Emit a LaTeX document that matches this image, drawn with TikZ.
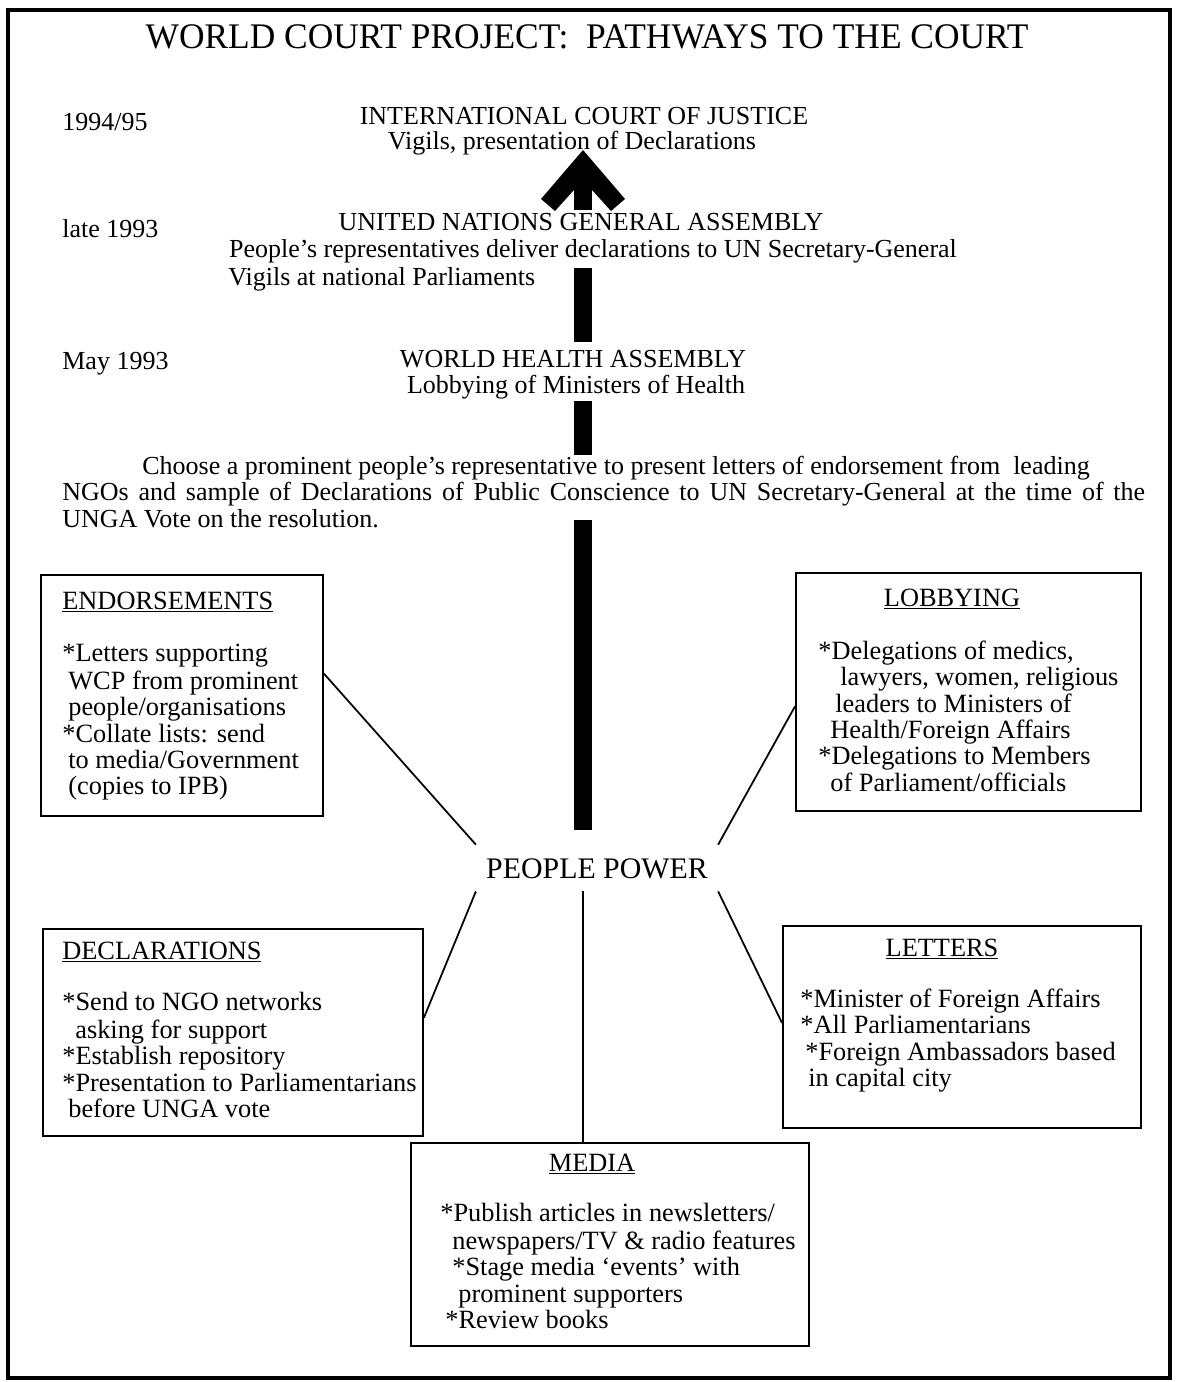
\documentclass[tikz,border=0pt]{standalone}
\usepackage{fontspec}
\setmainfont{Liberation Serif}
\usepackage{graphicx}
\usetikzlibrary{calc,backgrounds}
\newlength\pxu \setlength\pxu{0.02cm}
\newcommand\wcpbody{\fontsize{14.8}{15}\selectfont}
\newcommand\wcpbox{\fontsize{15}{15}\selectfont}
\newcommand\wcpppl{\fontsize{17}{20}\selectfont}
\newcommand\wcptitle{\fontsize{20.5}{24}\selectfont}
\begin{document}
\begin{tikzpicture}[x=0.02cm,y=-0.02cm,
  txt/.style={font=\wcpbody, inner sep=0pt},
  box/.style={draw, line width=1.1pt, inner sep=0pt, anchor=north west},
  boxttl/.style={font=\wcpbox, inner sep=0pt},
  body/.style={font=\wcpbox, inner sep=0pt, align=left, anchor=north west},
  link/.style={line width=1pt},
  shaft/.style={line width=0.36cm},
  frame/.style={line width=2.4pt}]
\useasboundingbox (0,0) rectangle (1176,1382);
\draw[frame] (8,10) rectangle (1170,1378);

% title
\node[txt, anchor=base] (title) at (587,49)
  {\wcptitle\scalebox{0.983}[1]{WORLD COURT PROJECT:\ \ PATHWAYS TO THE COURT}};

% dates
\node[txt, anchor=base west] (d1) at (62,131) {1994/95};
\node[txt, anchor=base west] (d2) at (62,237) {late 1993};
\node[txt, anchor=base west] (d3) at (62,369) {May 1993};

% stages
\node[txt, anchor=base] (icj1) at (584,125) {INTERNATIONAL COURT OF JUSTICE};
\node[txt, anchor=base] (icj2) at (572,150) {Vigils, presentation of Declarations};
\node[txt, anchor=base] (unga1) at (581,231) {UNITED NATIONS GENERAL ASSEMBLY};
\node[txt, anchor=base] (unga2) at (593,257) {People's representatives deliver declarations to UN Secretary-General};
\node[txt, anchor=base west] (unga3) at (228,285) {Vigils at national Parliaments};
\node[txt, anchor=base] (wha1) at (573,367) {WORLD HEALTH ASSEMBLY};
\node[txt, anchor=base] (wha2) at (576,393) {Lobbying of Ministers of Health};
\node[txt, anchor=base west] (para1) at (142,474) {Choose a prominent people's representative to present letters of endorsement from\ \ leading};
\node[txt, anchor=base west] (para2) at (62,500) {\makebox[21.66cm][s]{NGOs and sample of Declarations of Public Conscience to UN Secretary-General at the time of the}};
\node[txt, anchor=base west] (para3) at (62,527) {UNGA Vote on the resolution.};

% centre
\node[font=\wcpppl, anchor=base, inner xsep=0.2cm, inner ysep=0.26cm, text height=0.4cm, text depth=0pt] (pp) at (597,878) {PEOPLE POWER};

% boxes
\node[box, minimum width=5.64cm, minimum height=4.82cm] (endo) at (40,574) {};
\node[box, minimum width=6.9cm, minimum height=4.76cm] (lobby) at (795,572) {};
\node[box, minimum width=7.6cm, minimum height=4.14cm] (decl) at (42,928) {};
\node[box, minimum width=7.16cm, minimum height=4.04cm] (lett) at (782,925) {};
\node[box, minimum width=7.96cm, minimum height=4.06cm] (media) at (410,1142) {};

% box titles
\node[boxttl, anchor=base west] (endoT) at (62,609) {\underline{ENDORSEMENTS}};
\node[boxttl, anchor=base] (lobbyT) at (952,606) {\underline{LOBBYING}};
\node[boxttl, anchor=base west] (declT) at (62,959) {\underline{DECLARATIONS}};
\node[boxttl, anchor=base] (lettT) at (942,956) {\underline{LETTERS}};
\node[boxttl, anchor=base] (mediaT) at (592,1171) {\underline{MEDIA}};

% box bodies
\node[body] (endoB) at (62,642.5) {\strut*Letters supporting\\
  \hspace*{6\pxu}WCP from prominent\\
  \hspace*{6\pxu}people/organisations\\
  *Collate lists: send\\
  \hspace*{6\pxu}to media/Government\\
  \hspace*{6\pxu}(copies to IPB)};
\node[body] (lobbyB) at (818,640.5) {\strut*Delegations of medics,\\
  \hspace*{22\pxu}lawyers, women, religious\\
  \hspace*{17\pxu}leaders to Ministers of\\
  \hspace*{12\pxu}Health/Foreign Affairs\\
  *Delegations to Members\\
  \hspace*{12\pxu}of Parliament/officials};
\node[body] (declB) at (62,991.5) {\strut*Send to NGO networks\\
  \hspace*{13\pxu}asking for support\\
  *Establish repository\\
  *Presentation to Parliamentarians\\
  \hspace*{6\pxu}before UNGA vote};
\node[body] (lettB) at (800,988.5) {\strut*Minister of Foreign Affairs\\
  *All Parliamentarians\\
  \hspace*{5\pxu}*Foreign Ambassadors based\\
  \hspace*{8\pxu}in capital city};
\node[body] (mediaB) at (440,1202.5) {\strut*Publish articles in newsletters/\\
  \hspace*{12\pxu}newspapers/TV \& radio features\\
  \hspace*{12\pxu}*Stage media `events' with\\
  \hspace*{18\pxu}prominent supporters\\
  \hspace*{5\pxu}*Review books};

% axis and arrow (shaft interrupted by the text lines)
\coordinate (axis) at (583,0);
\coordinate (tip) at (583,150);
\begin{pgfonlayer}{background}
\draw[shaft] ($(pp.north -| axis)+(0,-15)$) -- ($(para2.base -| axis)+(0,20)$);
\draw[shaft] ($(para1.base -| axis)+(0,-19)$) -- ($(wha2.base -| axis)+(0,8)$);
\draw[shaft] ($(wha1.base -| axis)+(0,-25)$) -- ($(unga2.base -| axis)+(0,11)$);
\draw[shaft] ($(unga1.base -| axis)+(0,-21)$) -- ($(tip)+(0,30)$);
\end{pgfonlayer}
\fill (tip) -- ++(-42,49) -- ++(14,12) -- ($(tip)+(0,30)$) -- ($(tip)+(28,61)$) -- ($(tip)+(42,49)$) -- cycle;

% connectors
\draw[link] ($(endo.north east)!0.41!(endo.south east)$) -- (pp.north west);
\draw[link] ($(lobby.north west)!0.56!(lobby.south west)$) -- (pp.north east);
\draw[link] (pp.south west) -- ($(decl.north east)!0.43!(decl.south east)$);
\draw[link] (pp.south east) -- ($(lett.north west)!0.48!(lett.south west)$);
\draw[link] (pp.south -| axis) -- (media.north -| axis);
\end{tikzpicture}
\end{document}
